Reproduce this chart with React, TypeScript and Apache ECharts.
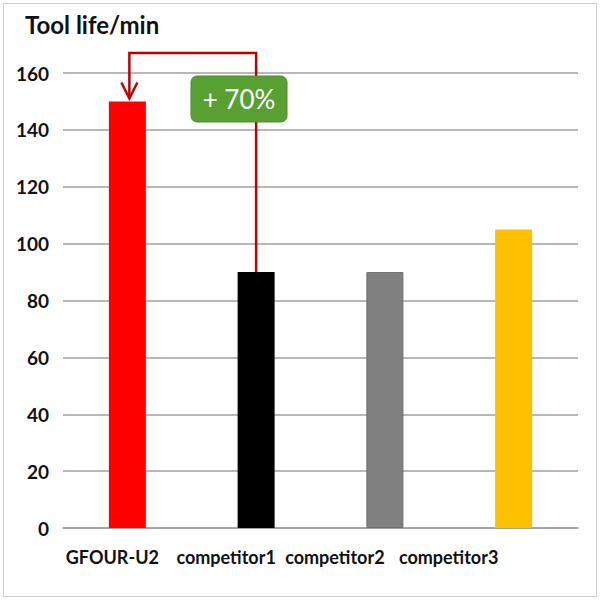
import React, { useEffect, useRef } from "react";
import * as echarts from "echarts";

const categories = ["GFOUR-U2", "competitor1", "competitor2", "competitor3"];
const toolLife = [150, 90, 90, 105];
const barColors = ["#ff0000", "#000000", "#808080", "#ffc000"];
const labelShift = [30, 60, 100, 130];
const yTicks = { min: 0, max: 160, interval: 20 };
const titleText = "Tool life/min";
const gainText = "+ 70%";

export default function App() {
  const ref = useRef<HTMLDivElement>(null);
  useEffect(() => {
    document.body.style.margin = "0";
    const chart = echarts.init(ref.current!, null, { renderer: "svg" });
    const font = "Lato, 'Open Sans', sans-serif";
    chart.setOption({
      animation: false,
      backgroundColor: "#ffffff",
      grid: { left: 63, right: 22, top: 73, bottom: 72 },
      xAxis: {
        type: "category",
        data: categories.map((c, i) => ({
          value: c,
          textStyle: { padding: [0, labelShift[i], 0, 0] },
        })),
        axisLine: { show: true, lineStyle: { color: "#a0a0a0", width: 1.5 } },
        axisTick: { show: false },
        axisLabel: {
          interval: 0,
          hideOverlap: false,
          color: "#111111",
          fontFamily: font,
          fontWeight: "bold",
          fontSize: 18,
          margin: 20,
        },
      },
      yAxis: {
        type: "value",
        min: yTicks.min,
        max: yTicks.max,
        interval: yTicks.interval,
        axisLine: { show: false },
        axisTick: { show: false },
        axisLabel: {
          color: "#111111",
          fontFamily: font,
          fontWeight: "bold",
          fontSize: 19,
          margin: 14,
        },
        splitLine: { lineStyle: { color: "#a0a0a0", width: 1.5 } },
      },
      series: [
        {
          type: "bar",
          barWidth: 37,
          data: toolLife.map((v, i) => ({
            value: v,
            itemStyle: {
              color: barColors[i],
              borderColor: i === 2 ? "#6e6e6e" : barColors[i],
              borderWidth: i === 2 ? 1 : 0,
            },
          })),
        },
      ],
    });

    const top = chart.convertToPixel({ gridIndex: 0 }, [0, 167]) as number[];
    const pRef = chart.convertToPixel({ gridIndex: 0 }, [0, toolLife[0]]) as number[];
    const pComp = chart.convertToPixel({ gridIndex: 0 }, [1, toolLife[1]]) as number[];
    const ax = pRef[0] + 2;
    const tipY = pRef[1] - 3;
    const red = "#c00000";

    chart.setOption({
      graphic: [
        {
          type: "text",
          left: 25,
          top: 12,
          style: {
            text: titleText,
            font: `bold 24px ${font}`,
            fill: "#111111",
          },
        },
        {
          type: "polyline",
          shape: {
            points: [
              [pComp[0], pComp[1]],
              [pComp[0], top[1]],
              [ax, top[1]],
              [ax, tipY],
            ],
          },
          style: { stroke: red, lineWidth: 2.5, fill: null },
          z: 10,
        },
        {
          type: "polyline",
          shape: {
            points: [
              [ax - 8, tipY - 16],
              [ax, tipY],
              [ax + 8, tipY - 16],
            ],
          },
          style: { stroke: red, lineWidth: 2.5, fill: null },
          z: 10,
        },
        {
          type: "rect",
          shape: { x: 191, y: 76, width: 96, height: 46, r: 6 },
          style: { fill: "#58a032", stroke: "#4d8f2b", lineWidth: 1 },
          z: 20,
        },
        {
          type: "text",
          x: 239,
          y: 99,
          style: {
            text: gainText,
            fill: "#ffffff",
            font: `26px ${font}`,
            align: "center",
            verticalAlign: "middle",
          },
          z: 21,
        },
      ],
    });
    return () => chart.dispose();
  }, []);
  return (
    <div
      style={{
        position: "absolute",
        left: 0,
        top: 0,
        width: 600,
        height: 600,
      }}
    >
      <div ref={ref} style={{ width: 600, height: 600 }} />
      <div
        style={{
          position: "absolute",
          left: 3,
          top: 3,
          width: 594,
          height: 594,
          boxSizing: "border-box",
          border: "1px solid #cfcfcf",
          pointerEvents: "none",
        }}
      />
    </div>
  );
}
